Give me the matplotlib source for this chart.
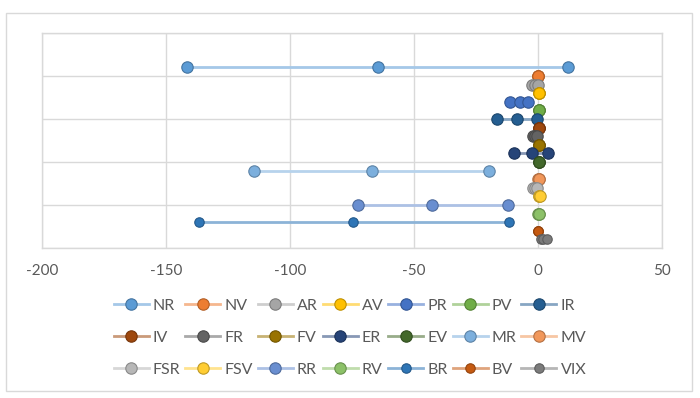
import numpy as np
import matplotlib
matplotlib.use("Agg")
import matplotlib.pyplot as plt
from matplotlib.colors import to_rgb
from matplotlib.patches import Rectangle

plt.rcParams['font.family'] = ['Lato', 'DejaVu Sans']
plt.rcParams['axes.unicode_minus'] = False

# series names, top row to bottom row
labels = ["NR", "NV", "AR", "AV", "PR", "PV", "IR",
          "IV", "FR", "FV", "ER", "EV", "MR", "MV",
          "FSR", "FSV", "RR", "RV", "BR", "BV", "VIX"]

# x values (three points per series)
NR = [-141.4, -64.5, 12.2]
NV = [0.0, 0.1, 0.2]
AR = [-2.2, -1.0, 0.0]
AV = [0.3, 0.4, 0.5]
PR = [-11.2, -7.4, -3.9]
PV = [0.3, 0.4, 0.4]
IR = [-16.6, -8.3, -0.3]
IV = [0.3, 0.4, 0.5]
FR = [-1.9, -1.0, -0.3]
FV = [0.4, 0.5, 0.6]
ER = [-9.6, -2.3, 4.0]
EV = [0.3, 0.4, 0.4]
MR = [-114.3, -67.0, -19.8]
MV = [0.2, 0.3, 0.4]
FSR = [-1.8, -1.0, -0.3]
FSV = [0.5, 0.6, 0.7]
RR = [-72.7, -42.8, -12.0]
RV = [0.2, 0.3, 0.3]
BR = [-136.6, -74.4, -11.8]
BV = [0.0, 0.1, 0.2]
VIX = [1.1, 2.1, 3.5]

series = [NR, NV, AR, AV, PR, PV, IR, IV, FR, FV, ER, EV, MR, MV,
          FSR, FSV, RR, RV, BR, BV, VIX]
y_pos = list(range(21, 0, -1))

colors = ["#5B9BD5", "#ED7D31", "#A5A5A5", "#FFC000", "#4472C4", "#70AD47", "#255E91",
          "#9E480E", "#636363", "#997300", "#264478", "#43682B", "#7CAFDD", "#F1975A",
          "#B7B7B7", "#FFCD33", "#698ED0", "#8CC168", "#2E75B6", "#C55A11", "#7B7B7B"]
msizes = [8.2] * 18 + [6.8, 6.8, 6.8]


def blend(c, k):
    r = np.array(to_rgb(c))
    return tuple(r * k + (1 - k) * np.ones(3))


def darker(c, k=0.75):
    return tuple(np.array(to_rgb(c)) * k)


fig = plt.figure(figsize=(7.0, 3.98), dpi=100)
ax = fig.add_axes([0.0596, 0.3769, 0.886, 0.5401])

handles = []
for name, xs, y, c, ms in zip(labels, series, y_pos, colors, msizes):
    h, = ax.plot(xs, [y] * len(xs), color=blend(c, 0.55), linewidth=2.0,
                 marker='o', markersize=ms, markerfacecolor=c,
                 markeredgecolor=darker(c), markeredgewidth=0.8, label=name)
    handles.append(h)

ax.set_xlim(-200, 50)
ax.set_ylim(0, 25)
ax.set_xticks(np.arange(-200, 51, 50))
ax.set_yticks(np.arange(0, 26, 5))
ax.set_yticklabels([])
ax.grid(True, color="#D9D9D9", linewidth=1.0)
ax.set_axisbelow(True)
for s in ax.spines.values():
    s.set_color("#D9D9D9")
    s.set_linewidth(1.0)
ax.tick_params(axis='both', length=0)
ax.tick_params(axis='x', pad=11.5, labelsize=11, labelcolor="#595959")

# legend filled row by row (7 per row)
order = [r * 7 + c for c in range(7) for r in range(3)]
leg = fig.legend([handles[i] for i in order], [labels[i] for i in order],
                 loc='center', bbox_to_anchor=(0.5, 0.152), ncol=7, frameon=False,
                 fontsize=11.5, handlelength=2.2, handletextpad=0.25,
                 columnspacing=0.3, labelspacing=1.12)
for t in leg.get_texts():
    t.set_color("#595959")

fig.patches.append(Rectangle((6 / 700, 1 - 391 / 398), 686 / 700, 378 / 398,
                             transform=fig.transFigure, fill=False,
                             edgecolor="#D9D9D9", linewidth=1.0))

fig.savefig("out.png", dpi=100)
